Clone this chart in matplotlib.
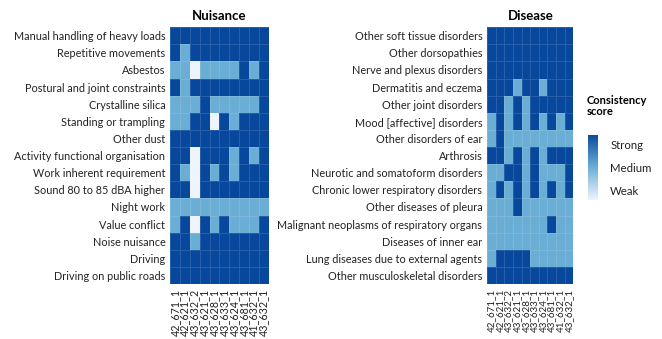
import numpy as np
import matplotlib
matplotlib.use('Agg')
import matplotlib.pyplot as plt
from matplotlib.colors import ListedColormap, LinearSegmentedColormap

plt.rcParams['font.family'] = ['Lato', 'DejaVu Sans']

#Data: 0 = weak, 1 = medium, 2 = strong
cols = ['42_671_1', '42_621_1', '43_632_2', '43_621_1', '43_628_1',
        '43_633_1', '43_624_1', '43_681_1', '41_632_1', '43_632_1']

nuis_rows = ['Manual handling of heavy loads', 'Repetitive movements', 'Asbestos',
             'Postural and joint constraints', 'Crystalline silica', 'Standing or trampling',
             'Other dust', 'Activity functional organisation', 'Work inherent requirement',
             'Sound 80 to 85 dBA higher', 'Night work', 'Value conflict', 'Noise nuisance',
             'Driving', 'Driving on public roads']
nuis_vals = [
    [2, 2, 2, 2, 2, 2, 2, 2, 2, 2],
    [2, 1, 2, 2, 2, 2, 2, 2, 2, 2],
    [1, 1, 0, 1, 1, 1, 1, 2, 1, 2],
    [2, 1, 2, 2, 2, 2, 2, 2, 2, 2],
    [1, 1, 1, 2, 1, 1, 1, 1, 1, 2],
    [1, 1, 2, 2, 0, 2, 1, 2, 2, 2],
    [2, 2, 2, 2, 2, 2, 2, 2, 2, 2],
    [2, 2, 0, 2, 2, 2, 1, 2, 1, 2],
    [2, 1, 0, 2, 1, 2, 1, 2, 2, 2],
    [2, 2, 0, 2, 2, 2, 2, 2, 2, 2],
    [1, 1, 1, 1, 1, 1, 1, 1, 1, 1],
    [1, 2, 0, 2, 1, 2, 1, 1, 1, 2],
    [2, 2, 1, 2, 2, 2, 2, 2, 2, 2],
    [2, 2, 2, 2, 2, 2, 2, 2, 2, 2],
    [2, 2, 2, 2, 2, 2, 2, 2, 2, 2],
]

dis_rows = ['Other soft tissue disorders', 'Other dorsopathies', 'Nerve and plexus disorders',
            'Dermatitis and eczema', 'Other joint disorders', 'Mood [affective] disorders',
            'Other disorders of ear', 'Arthrosis', 'Neurotic and somatoform disorders',
            'Chronic lower respiratory disorders', 'Other diseases of pleura',
            'Malignant neoplasms of respiratory organs', 'Diseases of inner ear',
            'Lung diseases due to external agents', 'Other musculoskeletal disorders']
dis_vals = [
    [2, 2, 2, 2, 2, 2, 2, 2, 2, 2],
    [2, 2, 2, 2, 2, 2, 2, 2, 2, 2],
    [2, 2, 2, 2, 2, 2, 2, 2, 2, 2],
    [2, 2, 2, 1, 2, 2, 1, 2, 2, 2],
    [2, 2, 1, 2, 1, 2, 2, 2, 2, 2],
    [1, 2, 1, 2, 1, 2, 1, 2, 1, 2],
    [1, 2, 1, 1, 1, 1, 1, 1, 1, 1],
    [2, 2, 1, 2, 1, 2, 1, 2, 2, 2],
    [1, 1, 2, 2, 1, 2, 1, 1, 1, 2],
    [1, 2, 1, 2, 1, 2, 1, 2, 1, 2],
    [1, 1, 1, 2, 1, 1, 1, 1, 1, 1],
    [1, 1, 1, 1, 1, 1, 1, 2, 1, 1],
    [1, 1, 1, 1, 1, 1, 1, 1, 1, 1],
    [1, 2, 2, 2, 2, 1, 1, 1, 1, 1],
    [2, 2, 2, 2, 2, 2, 2, 2, 2, 2],
]

score_labels = ['Weak', 'Medium', 'Strong']

WEAK = '#eef4fc'
MED = '#6aaed6'
STRONG = '#08489c'
cmap = ListedColormap([WEAK, MED, STRONG])

def draw_heat(ax, vals, rows, title, xfs):
    data = np.array(vals)
    ax.pcolormesh(data, cmap=cmap, vmin=-0.5, vmax=2.5,
                  edgecolors=(1, 1, 1, 0.12), linewidth=0.5)
    ax.set_xlim(0, data.shape[1])
    ax.set_ylim(data.shape[0], 0)
    ax.set_yticks(np.arange(len(rows)) + 0.5)
    ax.set_yticklabels(rows, fontsize=7.8, color='#222222')
    ax.set_xticks(np.arange(len(cols)) + 0.5)
    ax.set_xticklabels(cols, rotation=90, fontsize=xfs, color='#222222')
    ax.tick_params(length=0, pad=3.5)
    for sp in ax.spines.values():
        sp.set_visible(False)
    ax.set_title(title, fontsize=9.5, fontweight='bold', pad=5)

fig = plt.figure(figsize=(6.62, 3.39), dpi=100)
ax1 = fig.add_axes([0.257, 0.162, 0.149, 0.758])
ax2 = fig.add_axes([0.736, 0.162, 0.130, 0.758])
draw_heat(ax1, nuis_vals, nuis_rows, 'Nuisance', 7.7)
draw_heat(ax2, dis_vals, dis_rows, 'Disease', 7.0)

#colorbar as gradient
cax = fig.add_axes([0.888, 0.41, 0.015, 0.192])
grad_cmap = LinearSegmentedColormap.from_list('cs', [WEAK, MED, STRONG])
grad = np.linspace(0, 2, 256).reshape(-1, 1)
cax.imshow(grad, cmap=grad_cmap, aspect='auto', origin='lower', extent=[0, 1, -0.4, 2.4])
cax.set_xticks([])
cax.yaxis.tick_right()
cax.set_yticks([0, 1, 2])
cax.set_yticklabels(score_labels, fontsize=8.2, color='#222222')
cax.tick_params(length=0, pad=9)
for sp in cax.spines.values():
    sp.set_visible(False)
fig.text(0.886, 0.655, 'Consistency\nscore', fontsize=8, fontweight='bold',
         va='bottom', ha='left', linespacing=1.0)

fig.savefig('out.png', dpi=100)
